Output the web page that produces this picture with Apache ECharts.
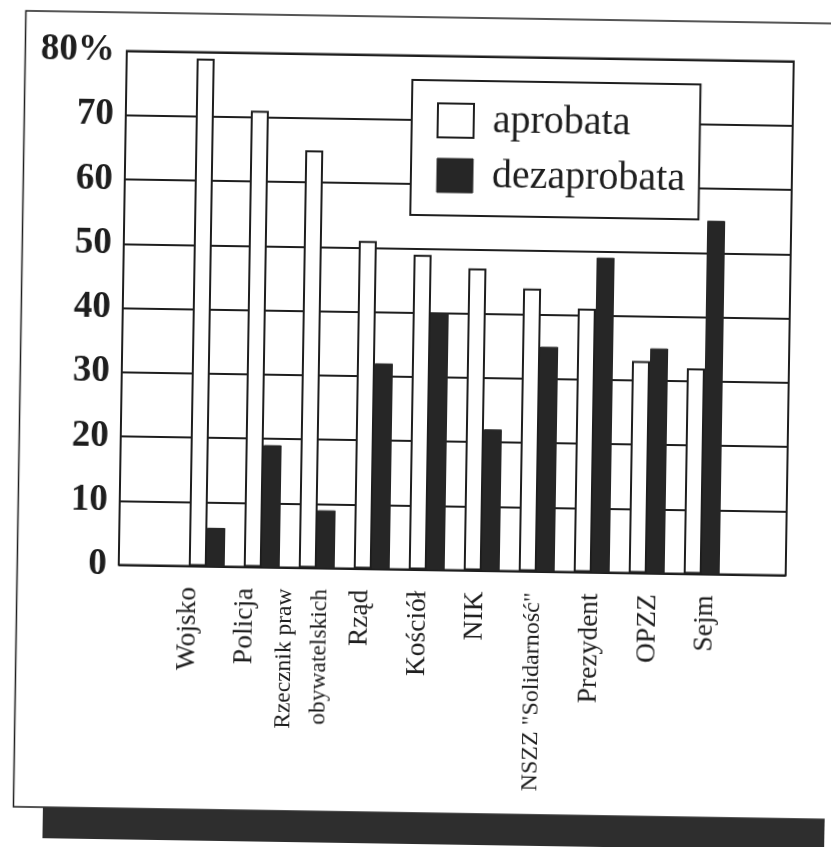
<!DOCTYPE html>
<html>
<head>
<meta charset="utf-8">
<script src="https://cdn.jsdelivr.net/npm/echarts@6/dist/echarts.min.js"></script>
<style>
  html, body { margin: 0; padding: 0; background: #fff; overflow: hidden; }
  /* the scan is slightly tilted clockwise */
  #chart { width: 831px; height: 847px; transform: rotate(0.9deg); }
</style>
</head>
<body>
<div id="chart"></div>
<script>
// data
const categories = ['Wojsko', 'Policja', 'Rzecznik praw\nobywatelskich', 'Rząd', 'Kościół', 'NIK',
  'NSZZ "Solidarność"', 'Prezydent', 'OPZZ', 'Sejm'];
const aprobata = [79, 71, 65, 51, 49, 47, 44, 41, 33, 32];
const dezaprobata = [6, 19, 9, 32, 40, 22, 35, 49, 35, 55];
const yTickLabels = ['0', '10', '20', '30', '40', '50', '60', '70', '80%'];

const FONT = 'Liberation Serif';
const INK = '#1e1e1e';

var chart = echarts.init(document.getElementById('chart'));

// all three grids share the same vertical span so the y scales line up
const TOP = 55.5, BOTTOM = 277.5;

chart.setOption({
  animation: false,
  backgroundColor: '#fff',
  grid: [
    // frame + gridlines
    { left: 121, right: 43, top: TOP, bottom: BOTTOM, show: true, borderColor: INK, borderWidth: 2 },
    // bars
    { left: 181.5, right: 99.5, top: TOP, bottom: BOTTOM },
    // category labels (typed separately in the original, slightly wider spacing)
    { left: 161.9, right: 94.1, top: TOP, bottom: BOTTOM }
  ],
  xAxis: [
    { gridIndex: 0, type: 'value', min: 0, max: 1, show: false },
    { gridIndex: 1, type: 'category', data: categories, show: false },
    {
      gridIndex: 2,
      type: 'category',
      data: categories,
      axisLine: { show: false },
      axisTick: { show: false },
      axisLabel: {
        rotate: 90,
        margin: 21,
        interval: 0,
        color: INK,
        fontFamily: FONT,
        fontSize: 27.5,
        formatter: function (v) {
          if (v.indexOf('\n') >= 0) {
            return v.split('\n').map(s => '{s|' + s + '}').join('\n');
          }
          if (v.indexOf('NSZZ') === 0) return '{n|' + v + '}';
          return v;
        },
        rich: {
          s: { fontFamily: FONT, fontSize: 23.5, lineHeight: 35, color: INK },
          n: { fontFamily: FONT, fontSize: 24, color: INK }
        }
      }
    }
  ],
  yAxis: [
    {
      gridIndex: 0,
      type: 'value',
      min: 0,
      max: 80,
      interval: 10,
      axisLine: { show: false },
      axisTick: { show: false },
      splitLine: { lineStyle: { color: INK, width: 2 } },
      axisLabel: {
        margin: 12,
        color: INK,
        fontFamily: FONT,
        fontSize: 37,
        fontWeight: 'bold',
        formatter: v => yTickLabels[Math.round(v / 10)]
      }
    },
    { gridIndex: 1, type: 'value', min: 0, max: 80, show: false },
    { gridIndex: 2, type: 'value', min: 0, max: 1, show: false }
  ],
  legend: {
    orient: 'vertical',
    left: 407,
    top: 80,
    padding: [20, 14, 20, 25],
    itemWidth: 36,
    itemHeight: 34,
    itemGap: 15,
    borderColor: INK,
    borderWidth: 2,
    backgroundColor: '#fff',
    selectedMode: false,
    textStyle: { fontFamily: FONT, fontSize: 40, lineHeight: 34, color: INK, padding: [0, 0, 0, 14] },
    data: [
      { name: 'aprobata', icon: 'rect', itemStyle: { color: '#fff', borderColor: INK, borderWidth: 2 } },
      { name: 'dezaprobata', icon: 'rect', itemStyle: { color: '#262626', borderColor: '#262626', borderWidth: 1 } }
    ]
  },
  series: [
    {
      name: 'aprobata',
      type: 'bar',
      xAxisIndex: 1,
      yAxisIndex: 1,
      barWidth: 18,
      barGap: '0%',
      itemStyle: { color: '#fff', borderColor: INK, borderWidth: 2 },
      data: aprobata
    },
    {
      name: 'dezaprobata',
      type: 'bar',
      xAxisIndex: 1,
      yAxisIndex: 1,
      barWidth: 18,
      barGap: '0%',
      itemStyle: { color: '#262626', borderColor: '#262626', borderWidth: 1 },
      data: dezaprobata
    }
  ],
  graphic: [
    // outer frame of the scanned page
    { type: 'rect', silent: true, shape: { x: 19.5, y: 17, width: 900, height: 796 },
      style: { fill: 'none', stroke: INK, lineWidth: 1.5 } },
    // dark strip along the bottom of the scan
    { type: 'rect', silent: true, shape: { x: 49, y: 813, width: 900, height: 31 },
      style: { fill: '#2e2e2e' } }
  ]
});
</script>
</body>
</html>
